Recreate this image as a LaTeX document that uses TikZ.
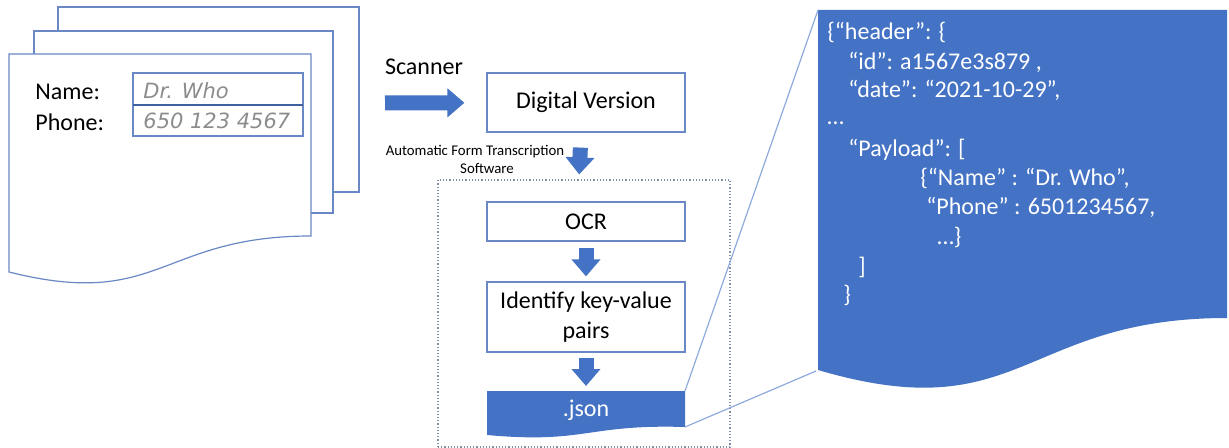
\documentclass[tikz,border=0pt]{standalone}
\usepackage{fontspec}
\setmainfont{Carlito}
\newfontfamily\handfont{DejaVu Sans}
\usepackage{tikz}
\usetikzlibrary{positioning}
\usetikzlibrary{calc}
\usetikzlibrary{arrows.meta}

\definecolor{lineblue}{HTML}{6A88C6}
\definecolor{darkline}{HTML}{3E5FA0}
\definecolor{fillblue}{HTML}{4472C4}
\definecolor{paleblue}{HTML}{8FAADC}
\definecolor{dotgray}{HTML}{8090A8}

\tikzset{
  box/.style={draw=lineblue,line width=0.6pt,fill=white,inner sep=0pt,font=\fontsize{12}{15}\selectfont,align=center},
  page/.style={draw=lineblue,line width=0.6pt,fill=white},
  fatarrow/.style={draw=fillblue,line width=7.5pt,-{Triangle[length=8.5pt,width=14pt]}},
  jsonline/.style={anchor=west,inner sep=0pt,text=white,font=\fontsize{12}{14}\selectfont},
  label/.style={inner sep=0pt,font=\fontsize{12}{14}\selectfont},
  hand/.style={anchor=west,inner sep=0pt,text=black!45,font=\handfont\itshape\fontsize{10.5}{12}\selectfont},
  zoomline/.style={draw=paleblue,line width=0.6pt}
}

\begin{document}
\begin{tikzpicture}[x=0.5pt,y=-0.5pt]
\useasboundingbox (0,0) rectangle (1229,448);

% paper form, three sheets
\draw[page] (58,7) rectangle (359,192);
\draw[page] (34,31) rectangle (333,213);
\draw[page] (9,54) -- (311,54) -- (311,236)
  .. controls (160,236) and (160,310) .. (9,272) -- cycle;
\node[label,anchor=west](name) at (35,92){Name:};
\node[label,anchor=west](phone) at (35,122){Phone:};
\draw[draw=lineblue,line width=0.6pt] (133,73) rectangle (303,136);
\draw[draw=darkline,line width=0.8pt] (133,105) -- (303,105);
\node[hand](namevalue) at (143,91){Dr. Who};
\node[hand](phonevalue) at (143,121){650 123 4567};

% scanner step
\node[label](scanner) at (424,67){Scanner};
\coordinate (scanstart) at (385,103);
\node[box,minimum width=99pt,minimum height=29.5pt](digital) at (586,102.5){Digital Version};

% transcription software
\node[draw=dotgray,densely dotted,line width=0.6pt,inner sep=0pt,minimum width=146pt,minimum height=133.5pt](software) at (584,313.5){};
\node[inner sep=0pt,align=center,font=\fontsize{7.4}{9}\selectfont](swlabel) at (475,159){Automatic Form Transcription\\\hspace*{12pt}Software};
\node[box,minimum width=99pt,minimum height=19.5pt](ocr) at (586,221.5){OCR};
\node[box,minimum width=99pt,minimum height=35pt](identify) at (586,317){Identify key-value\\pairs};
\fill[fillblue] (487,391) -- (685,391) -- (685,427)
  .. controls (586,424) and (586,444) .. (487,435) -- cycle;
\node[inner sep=0pt,text=white,font=\fontsize{12}{14}\selectfont](json) at (586,410){.json};
\coordinate (jsonNE) at (685,391);
\coordinate (jsonSE) at (685,427);

% json document
\fill[fillblue] (818,10) -- (1227,10) -- (1227,318)
  .. controls (1022,318) and (1022,430) .. (818,370) -- cycle;
\coordinate (docNW) at (818,10);
\coordinate (docSW) at (816,371);
\node[jsonline](l1) at (827,32){\{“header”: \{};
\node[jsonline](l2) at (848,62){“id”: a1567e3s879 ,};
\node[jsonline](l3) at (848,90){“date”: “2021-10-29”,};
\node[jsonline](l4) at (827,123){…};
\node[jsonline](l5) at (848,150){“Payload”: [};
\node[jsonline](l6) at (920,178){\{“Name” : “Dr. Who”,};
\node[jsonline](l7) at (926,207){“Phone” : 6501234567,};
\node[jsonline](l8) at (937,237){…\}};
\node[jsonline](l9) at (858,267){]};
\node[jsonline](l10) at (843,295){\}};

\path
(scanstart) edge[fatarrow,shorten >=11pt] (digital)
([xshift=-2.5pt]digital.south) edge[fatarrow,shorten <=7.5pt,shorten >=2.5pt] ([xshift=-2.5pt]software.north)
(ocr) edge[fatarrow,shorten <=3pt,shorten >=2.5pt] (identify)
(identify) edge[fatarrow,shorten <=2.5pt,shorten >=2.5pt] (jsonNE -| identify)
(jsonNE) edge[zoomline] (docNW)
(jsonSE) edge[zoomline] (docSW);
\end{tikzpicture}
\end{document}
